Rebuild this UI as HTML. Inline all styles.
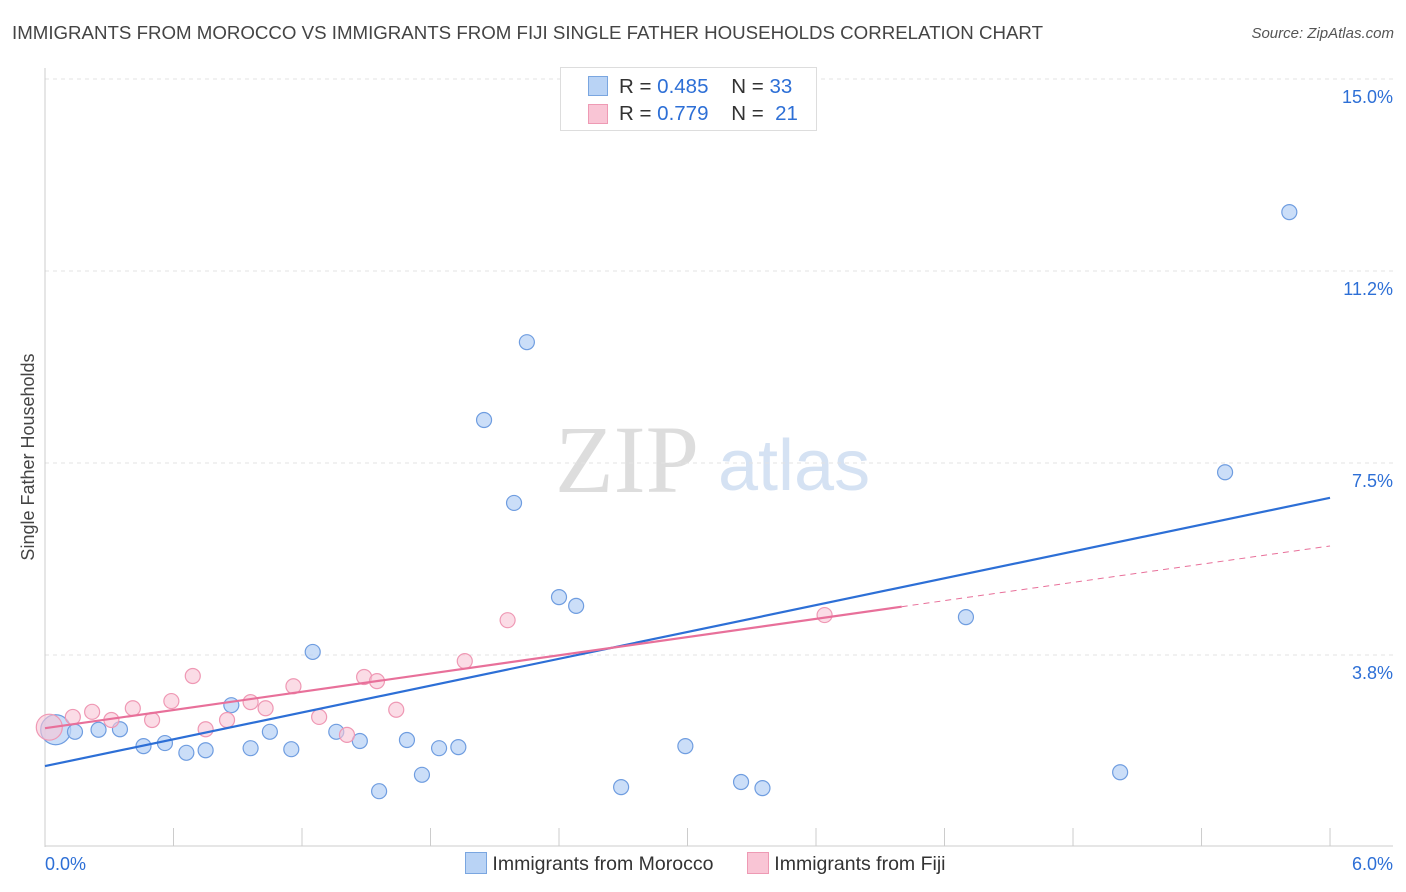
<!DOCTYPE html>
<html><head><meta charset="utf-8"><style>
body{margin:0;background:#fff;font-family:"Liberation Sans",sans-serif;}
#wrap{position:relative;width:1406px;height:892px;overflow:hidden;}
.t{position:absolute;white-space:nowrap;}
</style></head><body>
<div id="wrap">
<div class="t" style="left:12px;top:22px;font-size:18.7px;color:#444;">IMMIGRANTS FROM MOROCCO VS IMMIGRANTS FROM FIJI SINGLE FATHER HOUSEHOLDS CORRELATION CHART</div>
<div class="t" style="right:12px;top:25px;font-size:15px;color:#555;font-style:italic;">Source: ZipAtlas.com</div>
<svg id="svg" width="1406" height="892" style="position:absolute;left:0;top:0">
<text x="555" y="492" font-family="Liberation Serif" font-size="96" fill="#ddd">ZIP</text>
<text x="718" y="490" font-family="Liberation Sans" font-size="72" fill="#d5e2f3">atlas</text>
<text transform="translate(34,457) rotate(-90)" text-anchor="middle" font-size="18" fill="#444">Single Father Households</text>
</svg>
<div style="position:absolute;left:560px;top:67px;width:255px;height:62px;border:1px solid #ddd;background:#fff;font-size:20.5px;">
 <div style="position:absolute;left:27px;top:8px;width:18px;height:18px;background:#b9d3f5;border:1px solid #7aa6e0;"></div>
 <div class="t" style="left:58px;top:7px;color:#333">R = <span style="color:#2d6fd6">0.485</span> &nbsp;&nbsp; N = <span style="color:#2d6fd6">33</span></div>
 <div style="position:absolute;left:27px;top:36px;width:18px;height:18px;background:#f9c5d5;border:1px solid #ee9ab4;"></div>
 <div class="t" style="left:58px;top:34px;color:#333">R = <span style="color:#2d6fd6">0.779</span> &nbsp;&nbsp; N = &nbsp;<span style="color:#2d6fd6">21</span></div>
</div>
<div style="position:absolute;left:465px;top:852px;font-size:19.5px;color:#333;">
 <span style="display:inline-block;width:20px;height:20px;background:#b9d3f5;border:1px solid #7aa6e0;vertical-align:-4px"></span> Immigrants from Morocco
 <span style="display:inline-block;width:20px;height:20px;background:#f9c5d5;border:1px solid #ee9ab4;vertical-align:-4px;margin-left:28px"></span> Immigrants from Fiji
</div>
</div>
<script>
const blueX=[0.05,0.14,0.25,0.35,0.46,0.56,0.66,0.75,0.87,0.96,1.05,1.15,1.25,1.36,1.47,1.56,1.69,1.76,1.84,1.93,2.05,2.19,2.25,2.40,2.48,2.69,2.99,3.25,3.35,4.30,5.02,5.51,5.81];
const blueY=[2.29,2.25,2.29,2.30,1.97,2.03,1.84,1.89,2.77,1.93,2.25,1.91,3.81,2.25,2.07,1.09,2.09,1.41,1.93,1.95,8.34,6.72,9.86,4.88,4.71,1.17,1.97,1.27,1.15,4.49,1.46,7.32,12.40];
const pinkX=[0.02,0.13,0.22,0.31,0.41,0.50,0.59,0.69,0.75,0.85,0.96,1.03,1.16,1.28,1.41,1.49,1.55,1.64,1.96,2.16,3.64];
const pinkY=[2.34,2.54,2.64,2.48,2.71,2.48,2.85,3.34,2.30,2.48,2.83,2.71,3.14,2.54,2.19,3.32,3.24,2.68,3.63,4.43,4.53];
const yTicks=[3.75,7.5,11.25,15.0];
const yTickLabels=["3.8%","7.5%","11.2%","15.0%"];
const xTickLabels=["0.0%","6.0%"];
const blueLine=[1.58,6.82];
const pinkLine=[2.32,5.88];
const pinkSolidEnd=4.0;
const X=v=>45+v*214.17, Y=v=>847-v*51.2;
const ns="http://www.w3.org/2000/svg", svg=document.getElementById('svg');
function mk(tag,a,name){const e=document.createElementNS(ns,tag);for(const k in a)e.setAttribute(k,a[k]);


svg.appendChild(e);return e;}
yTicks.forEach((yv,i)=>{
 mk('line',{x1:45,x2:1393,y1:Y(yv),y2:Y(yv),stroke:'#e3e3e3','stroke-dasharray':'4,4'},'y-gridline');
 const t=mk('text',{x:1393,y:Y(yv)+24,'text-anchor':'end','font-size':18,fill:'#2d6fd6'},'y-tick-label');t.textContent=yTickLabels[i];
});
mk('line',{x1:45,x2:45,y1:68,y2:847,stroke:'#ccc'},'y-axis-line');
mk('line',{x1:45,x2:1393,y1:846,y2:846,stroke:'#ccc'},'x-axis-line');
for(let i=0;i<=10;i++){mk('line',{x1:X(i*0.6),x2:X(i*0.6),y1:828,y2:846,stroke:'#ccc'},'x-tick');}
let t=mk('text',{x:45,y:870,'font-size':18,fill:'#2d6fd6'},'x-tick-label');t.textContent=xTickLabels[0];
t=mk('text',{x:1393,y:870,'text-anchor':'end','font-size':18,fill:'#2d6fd6'},'x-tick-label');t.textContent=xTickLabels[1];
blueX.forEach((x,i)=>mk('circle',{cx:X(x),cy:Y(blueY[i]),r:i==0?15:7.5,fill:'rgba(185,211,245,0.75)',stroke:'#6f9de0','stroke-width':1.2},'morocco-point'));
pinkX.forEach((x,i)=>mk('circle',{cx:X(x),cy:Y(pinkY[i]),r:i==0?13:7.5,fill:'rgba(249,197,213,0.6)',stroke:'#ef98b4','stroke-width':1.2},'fiji-point'));
mk('line',{x1:X(0),y1:Y(blueLine[0]),x2:X(6),y2:Y(blueLine[1]),stroke:'#2d6fd6','stroke-width':2.2},'morocco-trendline');
const py=v=>pinkLine[0]+(pinkLine[1]-pinkLine[0])*v/6;
mk('line',{x1:X(0),y1:Y(py(0)),x2:X(pinkSolidEnd),y2:Y(py(pinkSolidEnd)),stroke:'#e8709a','stroke-width':2.2},'fiji-trendline');
mk('line',{x1:X(pinkSolidEnd),y1:Y(py(pinkSolidEnd)),x2:X(6),y2:Y(py(6)),stroke:'#e8709a','stroke-width':1,'stroke-dasharray':'6,5'},'fiji-trendline-extension');
</script>
</body></html>
